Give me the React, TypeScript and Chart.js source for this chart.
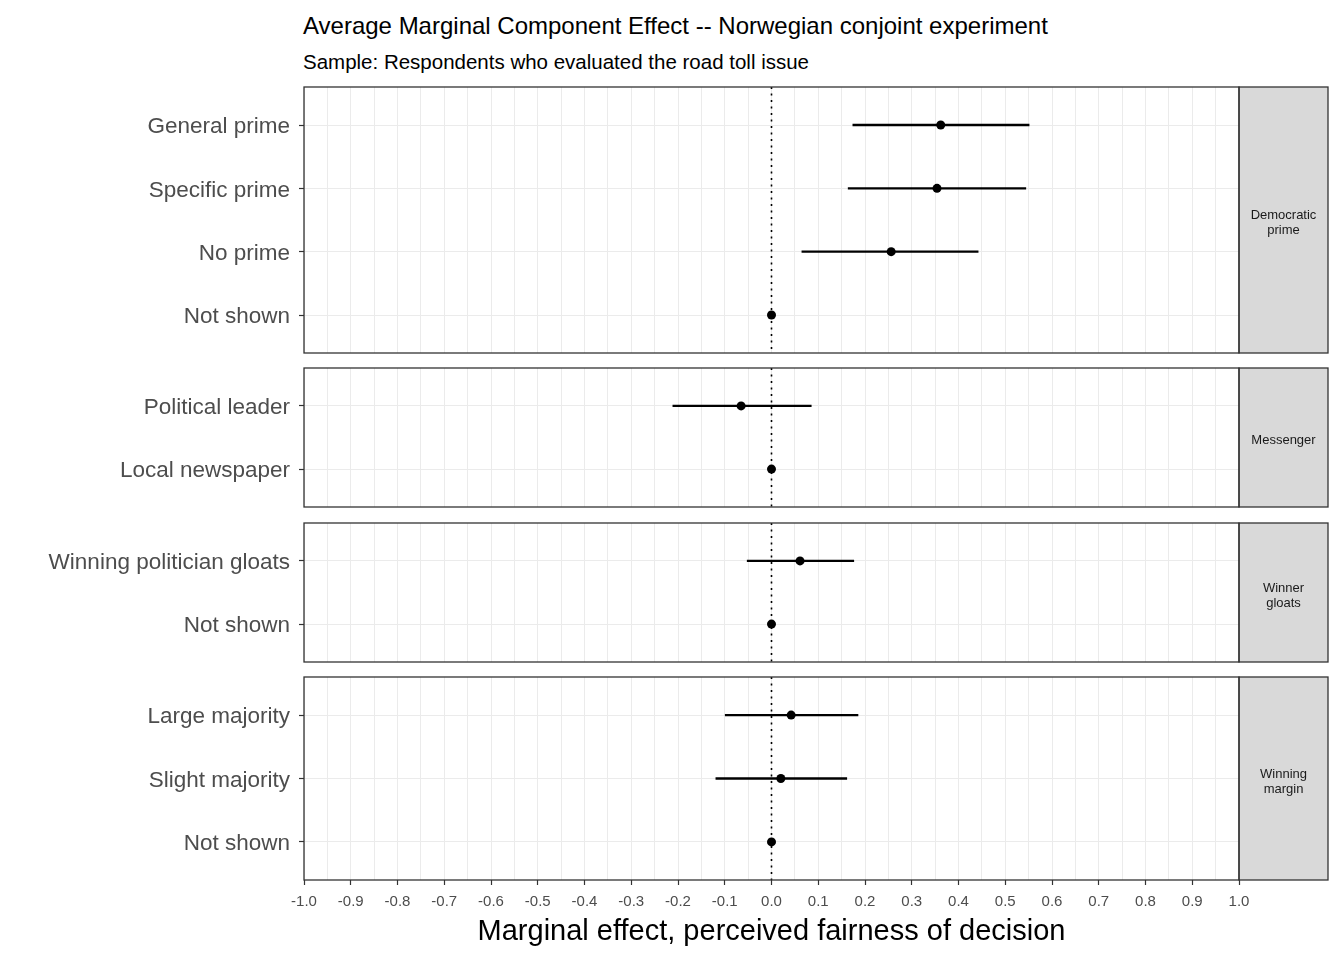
import React, { useEffect, useRef } from 'react';
import { Chart, registerables } from 'chart.js';

Chart.register(...registerables);

// ---------------- data ----------------
const democraticLabels = ['General prime', 'Specific prime', 'No prime', 'Not shown'];
const democraticEstimate = [0.362, 0.354, 0.256, 0];
const democraticLower = [0.174, 0.164, 0.065, 0];
const democraticUpper = [0.551, 0.544, 0.442, 0];

const messengerLabels = ['Political leader', 'Local newspaper'];
const messengerEstimate = [-0.065, 0];
const messengerLower = [-0.211, 0];
const messengerUpper = [0.085, 0];

const gloatsLabels = ['Winning politician gloats', 'Not shown'];
const gloatsEstimate = [0.061, 0];
const gloatsLower = [-0.052, 0];
const gloatsUpper = [0.176, 0];

const marginLabels = ['Large majority', 'Slight majority', 'Not shown'];
const marginEstimate = [0.042, 0.02, 0];
const marginLower = [-0.099, -0.119, 0];
const marginUpper = [0.185, 0.161, 0];

const stripLabels = [['Democratic', 'prime'], ['Messenger'], ['Winner', 'gloats'], ['Winning', 'margin']];

const xTickLabels = [
  '-1.0', '-0.9', '-0.8', '-0.7', '-0.6', '-0.5', '-0.4', '-0.3', '-0.2', '-0.1', '0.0',
  '0.1', '0.2', '0.3', '0.4', '0.5', '0.6', '0.7', '0.8', '0.9', '1.0',
];

const titleText = 'Average Marginal Component Effect -- Norwegian conjoint experiment';
const subtitleText = 'Sample: Respondents who evaluated the road toll issue';
const xTitleText = 'Marginal effect, perceived fairness of decision';

// ---------------- layout ----------------
const W = 1344;
const H = 960;
const UNIT = 63.3;
const GAP = 15.3;
const FIRST_TOP = 87;
const PLOT_LEFT = 304;
const PLOT_RIGHT = 1239;
const STRIP_W = 89;
const PAD = 12;
const FONT = '"Liberation Sans", Arial, Helvetica, sans-serif';

const panels = [
  { labels: democraticLabels, est: democraticEstimate, lo: democraticLower, hi: democraticUpper, strip: stripLabels[0] },
  { labels: messengerLabels, est: messengerEstimate, lo: messengerLower, hi: messengerUpper, strip: stripLabels[1] },
  { labels: gloatsLabels, est: gloatsEstimate, lo: gloatsLower, hi: gloatsUpper, strip: stripLabels[2] },
  { labels: marginLabels, est: marginEstimate, lo: marginLower, hi: marginUpper, strip: stripLabels[3] },
];

// discrete axis: 0.6 expansion on each side -> n + 0.2 units tall
const geometry = (() => {
  const out: { top: number; h: number }[] = [];
  let t = FIRST_TOP;
  for (const p of panels) {
    const hh = (p.labels.length + 0.2) * UNIT;
    out.push({ top: Math.round(t), h: Math.round(hh) });
    t += hh + GAP;
  }
  return out;
})();

const xTickValues = xTickLabels.map((s) => parseFloat(s));
const xGridValues: number[] = [];
xTickValues.forEach((v, i) => {
  xGridValues.push(v);
  if (i < xTickValues.length - 1) xGridValues.push((v + xTickValues[i + 1]) / 2);
});

const decorPlugin = {
  id: 'panelDecor',
  afterDraw(chart: any) {
    const { ctx, chartArea: a } = chart;
    const strip: string[] = chart.options.plugins.panelDecor.strip;
    ctx.save();
    ctx.fillStyle = '#D9D9D9';
    ctx.fillRect(a.right, a.top, STRIP_W, a.bottom - a.top);
    ctx.strokeStyle = '#333333';
    ctx.lineWidth = 1.3;
    ctx.strokeRect(a.left, a.top, a.right - a.left, a.bottom - a.top);
    ctx.strokeRect(a.right, a.top, STRIP_W, a.bottom - a.top);
    ctx.fillStyle = '#1A1A1A';
    ctx.font = `13px ${FONT}`;
    ctx.textAlign = 'center';
    ctx.textBaseline = 'middle';
    const cx = a.right + STRIP_W / 2;
    const cy = (a.top + a.bottom) / 2 + 3;
    const lh = 15;
    strip.forEach((s, i) => {
      ctx.fillText(s, cx, cy + (i - (strip.length - 1) / 2) * lh);
    });
    ctx.restore();
  },
};

export default function App() {
  const refs = useRef<(HTMLCanvasElement | null)[]>([]);

  useEffect(() => {
    Chart.defaults.font.family = FONT;
    const charts: Chart[] = [];
    panels.forEach((p, k) => {
      const canvas = refs.current[k];
      if (!canvas) return;
      const isLast = k === panels.length - 1;
      const { top, h } = geometry[k];
      const n = p.labels.length;
      const xAxisH = isLast ? H - (top + h) : 0;
      const chart = new Chart(canvas, {
        type: 'scatter',
        data: {
          datasets: [
            {
              type: 'scatter',
              data: p.labels.map((_, j) => ({ x: p.est[j], y: j + 1 })),
              backgroundColor: '#000000',
              borderColor: '#000000',
              borderWidth: 0,
              pointRadius: 4.5,
              order: 0,
            } as any,
            {
              type: 'bar',
              indexAxis: 'y',
              data: p.labels.map((_, j) => ({ x: [p.lo[j], p.hi[j]], y: j + 1 })),
              backgroundColor: '#000000',
              borderWidth: 0,
              barThickness: 1.6,
              grouped: false,
              order: 1,
            } as any,
            {
              type: 'line',
              data: [
                { x: 0, y: 0.4 },
                { x: 0, y: n + 0.6 },
              ],
              borderColor: '#000000',
              borderWidth: 1.6,
              borderDash: [2, 4.5],
              pointRadius: 0,
              fill: false,
              order: 2,
            } as any,
          ],
        },
        options: {
          animation: false,
          responsive: false,
          maintainAspectRatio: false,
          devicePixelRatio: 1,
          events: [],
          layout: {
            padding: { left: 0, right: W - PLOT_RIGHT, top: PAD, bottom: isLast ? 0 : PAD },
          },
          plugins: {
            legend: { display: false },
            tooltip: { enabled: false },
            panelDecor: { strip: p.strip },
          } as any,
          scales: {
            x: {
              type: 'linear',
              min: -1,
              max: 1,
              bounds: 'data',
              offset: false,
              beginAtZero: false,
              afterBuildTicks: (sc: any) => {
                sc.ticks = xGridValues.map((v) => ({ value: v }));
              },
              afterFit: (sc: any) => {
                sc.height = xAxisH;
                sc.paddingLeft = 0;
                sc.paddingRight = 0;
              },
              ticks: {
                display: isLast,
                autoSkip: false,
                maxRotation: 0,
                minRotation: 0,
                padding: 8,
                color: '#4D4D4D',
                font: { size: 15 },
                callback: (_v: any, i: number) => (i % 2 === 0 ? xTickLabels[i / 2] : ''),
              },
              grid: {
                offset: false,
                color: '#EBEBEB',
                lineWidth: 1,
                drawTicks: isLast,
                tickLength: 5,
                tickWidth: 1.2,
                tickColor: (c: any) => (c.index % 2 === 0 ? '#333333' : 'rgba(0,0,0,0)'),
              },
              border: { display: false },
              title: {
                display: isLast,
                text: xTitleText,
                color: '#000000',
                font: { size: 29 },
                padding: { top: 0, bottom: 11 },
              },
            } as any,
            y: {
              type: 'linear',
              reverse: true,
              min: 0.4,
              max: n + 0.6,
              bounds: 'data',
              offset: false,
              afterBuildTicks: (sc: any) => {
                sc.ticks = p.labels.map((_, j) => ({ value: j + 1 }));
              },
              afterFit: (sc: any) => {
                sc.width = PLOT_LEFT;
                sc.paddingTop = 0;
                sc.paddingBottom = 0;
              },
              ticks: {
                autoSkip: false,
                padding: 9,
                labelOffset: 2,
                color: '#4D4D4D',
                font: { size: 22.5 },
                callback: (_v: any, i: number) => p.labels[i],
              },
              grid: {
                offset: false,
                color: '#EBEBEB',
                lineWidth: 1,
                drawTicks: true,
                tickLength: 5,
                tickWidth: 1.2,
                tickColor: '#333333',
              },
              border: { display: false },
            } as any,
          },
        },
        plugins: [decorPlugin as any],
      });
      charts.push(chart);
    });
    return () => {
      charts.forEach((c) => c.destroy());
    };
  }, []);

  return (
    <div
      style={{
        position: 'absolute',
        left: 0,
        top: 0,
        width: W,
        height: H,
        background: '#FFFFFF',
        overflow: 'hidden',
        fontFamily: FONT,
      }}
    >
      <div
        style={{
          position: 'absolute',
          left: 303,
          top: 14,
          fontSize: 24,
          lineHeight: '24px',
          color: '#000000',
          whiteSpace: 'nowrap',
        }}
      >
        {titleText}
      </div>
      <div
        style={{
          position: 'absolute',
          left: 303,
          top: 52,
          fontSize: 20.5,
          lineHeight: '20.5px',
          color: '#000000',
          whiteSpace: 'nowrap',
        }}
      >
        {subtitleText}
      </div>
      {panels.map((p, k) => {
        const { top, h } = geometry[k];
        const isLast = k === panels.length - 1;
        const cTop = top - PAD;
        const cH = isLast ? H - cTop : h + 2 * PAD;
        return (
          <canvas
            key={k}
            ref={(el) => {
              refs.current[k] = el;
            }}
            width={W}
            height={cH}
            style={{ position: 'absolute', left: 0, top: cTop, width: W, height: cH }}
          />
        );
      })}
    </div>
  );
}
